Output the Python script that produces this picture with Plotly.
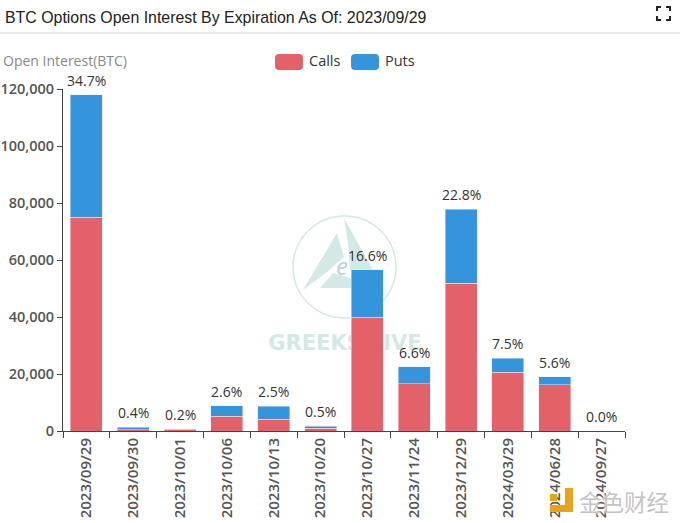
"""
BTC options open interest by expiration, stacked bars
"""
import plotly.graph_objects as go

expiries = ['2023/09/29', '2023/09/30', '2023/10/01', '2023/10/06', '2023/10/13', '2023/10/20',
            '2023/10/27', '2023/11/24', '2023/12/29', '2024/03/29', '2024/06/28', '2024/09/27']
calls = [75000, 500, 400, 5200, 4200, 1000, 40000, 16500, 51800, 20700, 16300, 0]
puts = [43000, 800, 300, 3700, 4400, 700, 16500, 6000, 26000, 4800, 2700, 0]
shares = ['34.7%', '0.4%', '0.2%', '2.6%', '2.5%', '0.5%', '16.6%', '6.6%', '22.8%', '7.5%', '5.6%', '0.0%']
totals = [c + p for c, p in zip(calls, puts)]

W, H = 680, 523
LEFT, RIGHT, TOP, BOTTOM = 63, 625, 89, 431
CALL_COLOR = '#e5616a'
PUT_COLOR = '#3595dc'
MARK_COLOR = '#d2e9e5'
GOLD = '#e8a317'


# Pixel position in the page to paper coordinates
def px(x):
    return (x - LEFT) / (RIGHT - LEFT)


def py(y):
    return (BOTTOM - y) / (BOTTOM - TOP)


def path(points, close=True):
    d = 'M' + ' L'.join(f'{px(x):.4f},{py(y):.4f}' for x, y in points)
    return d + (' Z' if close else '')


def polygon(points, color, layer='below'):
    return dict(type='path', xref='paper', yref='paper', path=path(points),
                fillcolor=color, line=dict(width=0), layer=layer)


def swatch(x0, x1, y0, y1, color):
    r = 4
    d = (f'M{px(x0 + r):.4f},{py(y0):.4f} L{px(x1 - r):.4f},{py(y0):.4f} '
         f'Q{px(x1):.4f},{py(y0):.4f} {px(x1):.4f},{py(y0 + r):.4f} '
         f'L{px(x1):.4f},{py(y1 - r):.4f} Q{px(x1):.4f},{py(y1):.4f} {px(x1 - r):.4f},{py(y1):.4f} '
         f'L{px(x0 + r):.4f},{py(y1):.4f} Q{px(x0):.4f},{py(y1):.4f} {px(x0):.4f},{py(y1 - r):.4f} '
         f'L{px(x0):.4f},{py(y0 + r):.4f} Q{px(x0):.4f},{py(y0):.4f} {px(x0 + r):.4f},{py(y0):.4f} Z')
    return dict(type='path', xref='paper', yref='paper', path=d, fillcolor=color, line=dict(width=0))


def text(x, y, s, size, color, anchor='left', family='Open Sans'):
    return dict(x=px(x), y=py(y), xref='paper', yref='paper', text=s, showarrow=False,
                xanchor=anchor, yanchor='middle', font=dict(family=family, size=size, color=color))


fig = go.Figure()
fig.add_trace(go.Bar(x=expiries, y=calls, name='Calls', marker=dict(color=CALL_COLOR), width=0.68))
fig.add_trace(go.Bar(x=expiries, y=puts, name='Puts', marker=dict(color=PUT_COLOR), width=0.68))

shapes = [
    # header rule
    dict(type='line', xref='paper', yref='paper', x0=px(0), x1=px(W), y0=py(33), y1=py(33),
         line=dict(color='#e9e9ee', width=2)),
    # watermark
    dict(type='circle', xref='paper', yref='paper', x0=px(293), x1=px(396), y0=py(318), y1=py(216),
         line=dict(color=MARK_COLOR, width=1.5), layer='below'),
    polygon([(303, 290), (337, 233), (344, 257), (327, 272)], MARK_COLOR),
    polygon([(344, 218), (373, 270), (350, 270), (348, 243)], MARK_COLOR),
    polygon([(320, 288), (333, 273), (385, 288)], MARK_COLOR),
    dict(type='rect', xref='paper', yref='paper', x0=px(260), x1=px(430), y0=py(352), y1=py(330),
         line=dict(width=0), fillcolor='rgba(0,0,0,0)', layer='below',
         label=dict(text='<b>GREEKS.LIVE</b>', textposition='middle center',
                    font=dict(family='DejaVu Sans', size=21, color=MARK_COLOR))),
    # legend swatches
    swatch(275, 303, 54, 70, CALL_COLOR),
    swatch(351, 379, 54, 70, PUT_COLOR),
    # gold logo
    polygon([(565, 488), (573, 488), (573, 512), (550, 512), (550, 505), (565, 505)], GOLD, 'above'),
    polygon([(550, 494), (557, 494), (557, 501), (550, 501)], GOLD, 'above'),
]

# fullscreen icon corners
for corners in [[(657, 11), (657, 7), (661, 7)], [(666, 7), (670, 7), (670, 11)],
                [(657, 16), (657, 20), (661, 20)], [(666, 20), (670, 20), (670, 16)]]:
    shapes.append(dict(type='path', xref='paper', yref='paper', path=path(corners, close=False),
                       line=dict(color='#222', width=2)))

annotations = [
    text(3, 17, 'BTC Options Open Interest By Expiration As Of: 2023/09/29', 15.9, '#222', family='Liberation Sans'),
    text(1, 60, 'Open Interest(BTC)', 14, '#888'),
    text(307, 61, 'Calls', 14.5, '#333'),
    text(383, 61, 'Puts', 14.5, '#333'),
    text(342, 265, '<i>e</i>', 24, '#b5d5d0', anchor='center'),
    text(624, 501, '金色财经', 22.5, '#c4c4c4', anchor='center', family='Noto Sans CJK SC'),
]
annotations[-1]['font']['shadow'] = '0 0 3px white, 0 0 3px white'

# share of total above each stack
for day, total, share in zip(expiries, totals, shares):
    annotations.append(dict(x=day, y=total, text=share, showarrow=False, yshift=14.5, yanchor='middle',
                            font=dict(family='Open Sans', size=14, color='#333')))

fig.update_layout(
    width=W, height=H,
    margin=dict(l=LEFT, r=W - RIGHT, t=TOP, b=H - BOTTOM, autoexpand=False),
    paper_bgcolor='white', plot_bgcolor='white',
    barmode='stack', showlegend=False,
    shapes=shapes, annotations=annotations,
)
fig.update_xaxes(type='category', tickson='boundaries', ticks='outside', ticklen=6, tickcolor='#444',
                 showline=True, linecolor='#444', linewidth=1, showgrid=False, tickangle=-90,
                 tickfont=dict(family='Open Sans', size=15, color='#555', weight=600))
fig.update_yaxes(range=[0, 120000], tickvals=[0, 20000, 40000, 60000, 80000, 100000, 120000],
                 tickformat=',', ticks='outside', ticklen=5, tickcolor='#444',
                 showline=True, linecolor='#444', linewidth=1, showgrid=False, zeroline=False,
                 tickfont=dict(family='Open Sans', size=14.5, color='#555', weight=600))

fig.write_html("out.html", config=dict(displayModeBar=False),
               post_script="document.body.style.margin='0';")
